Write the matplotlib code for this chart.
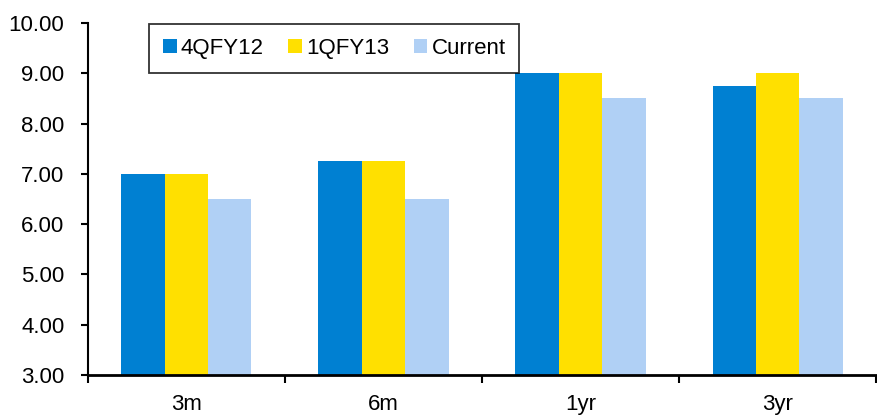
import numpy as np
import matplotlib.pyplot as plt
import matplotlib.ticker as ticker

plt.rcParams['font.family'] = ['Liberation Sans', 'DejaVu Sans']

categories = ['3m', '6m', '1yr', '3yr']
series_names = ['4QFY12', '1QFY13', 'Current']
q4fy12 = [7.00, 7.25, 9.00, 8.75]
q1fy13 = [7.00, 7.25, 9.00, 9.00]
current = [6.50, 6.50, 8.50, 8.50]
colors = ['#0080D2', '#FFE000', '#B0D0F5']

fig = plt.figure(figsize=(8.77, 4.18), dpi=100)
ax = fig.add_axes([0.1003, 0.103, 0.8986, 0.842])

x = np.arange(len(categories))
w = 0.22
for i, (vals, c, lab) in enumerate(zip([q4fy12, q1fy13, current], colors, series_names)):
    ax.bar(x + (i - 1) * w, np.array(vals) - 3.0, width=w, bottom=3.0,
           color=c, label=lab, edgecolor='none')

ax.set_xlim(-0.5, len(categories) - 0.5)
ax.set_ylim(3.0, 10.0)
ax.yaxis.set_major_locator(ticker.MultipleLocator(1.0))
ax.yaxis.set_major_formatter(ticker.FormatStrFormatter('%.2f'))

# category labels centred, ticks at the boundaries
ax.set_xticks(np.arange(len(categories) + 1) - 0.5)
ax.set_xticklabels([])
ax.set_xticks(x, minor=True)
ax.set_xticklabels(categories, minor=True)
ax.tick_params(axis='x', which='minor', length=0, pad=14, labelsize=16)
ax.tick_params(axis='x', which='major', length=6, width=1.5, direction='out')
ax.tick_params(axis='y', length=5, width=1.5, direction='out', labelsize=16, pad=12)

for s in ['top', 'right']:
    ax.spines[s].set_visible(False)
ax.spines['bottom'].set_linewidth(2)
ax.spines['left'].set_linewidth(1.5)

leg = ax.legend(loc='upper left', bbox_to_anchor=(0.078, 0.997), ncol=3, fontsize=16,
                frameon=True, fancybox=False, handlelength=0.6, handleheight=0.6,
                handletextpad=0.2, columnspacing=1.1, borderpad=0.62,
                borderaxespad=0)
leg.get_frame().set_edgecolor('black')
leg.get_frame().set_linewidth(1.3)

fig.savefig('out.png', dpi=100)
